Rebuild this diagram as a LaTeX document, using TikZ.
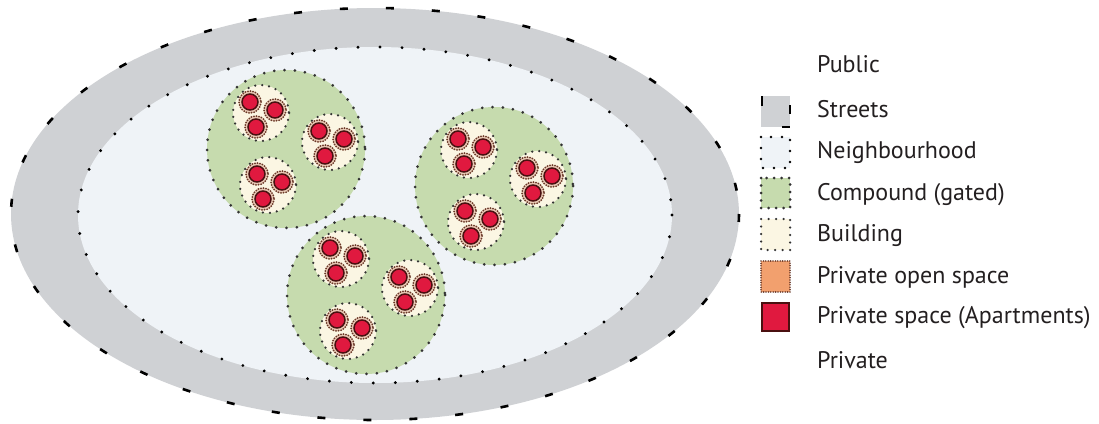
\documentclass[tikz,border=0pt]{standalone}
\usepackage{fontspec}
\setmainfont{PT Sans}
\definecolor{streetc}{HTML}{CFD1D4}
\definecolor{neighc}{HTML}{EFF3F7}
\definecolor{compc}{HTML}{C6DBAE}
\definecolor{bldc}{HTML}{FBF6E3}
\definecolor{aptc}{HTML}{E0193F}
\definecolor{aptline}{HTML}{4A1010}
\definecolor{ringc}{HTML}{6A3A2A}
\definecolor{ringfill}{HTML}{EBCDB8}
\definecolor{posc}{HTML}{F2A06E}
\definecolor{textc}{HTML}{231F20}
\tikzset{
  streetdash/.style={line width=2.6pt, dash pattern=on 8pt off 38pt},
  neighdots/.style={line width=3.2pt, line cap=round, dash pattern=on 0pt off 22pt},
  compdots/.style={line width=3pt, line cap=round, dash pattern=on 0pt off 10.3pt, draw=black!80},
  blddots/.style={line width=2.5pt, line cap=round, dash pattern=on 0pt off 7pt, draw=black!80},
  ringdots/.style={line width=2pt, line cap=round, dash pattern=on 0pt off 2.6pt, draw=ringc},
  apt/.style={fill=aptc, draw=aptline, line width=1.5pt},
  legtext/.style={anchor=base west, inner sep=0pt, font=\fontsize{24}{28}\selectfont, text=textc},
}
\begin{document}
\begin{tikzpicture}[x=1pt,y=-1pt]
\useasboundingbox (0,0) rectangle (1099,423);
% streets
\fill[streetc] (375,214) ellipse [x radius=364, y radius=206];
\draw[streetdash] (375,214) ellipse [x radius=364, y radius=206];
% neighbourhood
\fill[neighc] (375,215) ellipse [x radius=297, y radius=168];
\draw[neighdots] (375,215) ellipse [x radius=297, y radius=168];
% compounds
\foreach \cx/\cy in {286/149, 494/186, 366/295} {
  \fill[compc] (\cx,\cy) circle[radius=79];
  \draw[compdots] (\cx,\cy) circle[radius=79];
  \foreach \bx/\by in {-25/-36, 44/-7, -18/36} {
    \fill[bldc] (\cx+\bx,\cy+\by) circle[radius=28];
    \draw[blddots] (\cx+\bx,\cy+\by) circle[radius=28];
    \foreach \ax/\ay in {-11/-11, 14/-3, -5/14} {
      \fill[ringfill] (\cx+\bx+\ax,\cy+\by+\ay) circle[radius=11.5];
      \draw[ringdots] (\cx+\bx+\ax,\cy+\by+\ay) circle[radius=11];
      \draw[apt] (\cx+\bx+\ax,\cy+\by+\ay) circle[radius=8];
    }
  }
}
% legend swatches
\fill[streetc] (761,96) rectangle (790,127);
\draw[line width=2.4pt] (762,96) -- (762,106);
\draw[line width=2.4pt] (790,105) -- (790,114);
\draw[line width=2.4pt] (782,127) -- (790,127);
\fill[neighc] (761,137) rectangle (790,168);
\draw[line width=2.8pt, line cap=round, dash pattern=on 0pt off 11pt] (761,137) rectangle (790,168);
\fill[compc] (761,178) rectangle (790,208);
\draw[compdots, dash pattern=on 0pt off 7.5pt] (761,178) rectangle (790,208);
\fill[bldc] (761,219) rectangle (790,250);
\draw[blddots, dash pattern=on 0pt off 7.5pt] (761,219) rectangle (790,250);
\fill[posc] (761,261) rectangle (790,292);
\draw[ringdots, line width=1.8pt, dash pattern=on 0pt off 2.4pt] (761,261) rectangle (790,292);
\draw[apt] (762,303) rectangle (789,331);
% legend texts
\node[legtext] (public) at (817,72) {Public};
\node[legtext] (streets) at (817,117) {Streets};
\node[legtext] (neigh) at (817,158) {Neighbourhood};
\node[legtext] (comp) at (817,200) {Compound (gated)};
\node[legtext] (bld) at (817,241) {Building};
\node[legtext] (pos) at (817,283) {Private open space};
\node[legtext] (ps) at (817,323) {Private space (Apartments)};
\node[legtext] (priv) at (817,368) {Private};
\end{tikzpicture}
\end{document}
